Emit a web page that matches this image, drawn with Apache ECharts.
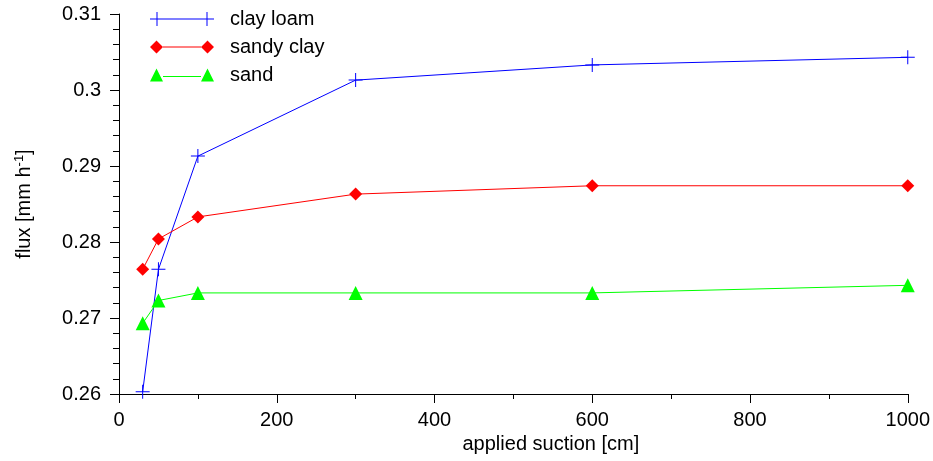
<!DOCTYPE html>
<html>
<head>
<meta charset="utf-8">
<script src="https://cdn.jsdelivr.net/npm/echarts@6/dist/echarts.min.js"></script>
<style>
html,body{margin:0;padding:0;background:#fff;overflow:hidden;}
#c{width:933px;height:461px;}
</style>
</head>
<body>
<div id="c"></div>
<script>
var suction = [30, 50, 100, 300, 600, 1000];
var clayLoam = [0.2603, 0.2764, 0.2913, 0.3013, 0.3033, 0.3043];
var sandyClay = [0.2764, 0.2804, 0.2833, 0.2863, 0.2874, 0.2874];
var sand = [0.2693, 0.2723, 0.2733, 0.2733, 0.2733, 0.2743];
var seriesNames = ['clay loam', 'sandy clay', 'sand'];

function pairs(xs, ys) { return xs.map(function (x, i) { return [x, ys[i]]; }); }

var FONT = 'Liberation Sans, Arial, sans-serif';
var plusPath = 'path://M6.5,0 L7.5,0 L7.5,6.5 L14,6.5 L14,7.5 L7.5,7.5 L7.5,14 L6.5,14 L6.5,7.5 L0,7.5 L0,6.5 L6.5,6.5 Z';

// legend icons: line with a marker at each end
var legPlus = 'path://M6.5,0 L7.5,0 L7.5,6.5 L56.5,6.5 L56.5,0 L57.5,0 L57.5,6.5 L64,6.5 L64,7.5 L57.5,7.5 L57.5,14 L56.5,14 L56.5,7.5 L7.5,7.5 L7.5,14 L6.5,14 L6.5,7.5 L0,7.5 L0,6.5 L6.5,6.5 Z';
var legDiamond = 'path://M0,7 L6.5,0.5 L13,7 L6.5,13.5 Z M13,6.5 L51,6.5 L51,7.5 L13,7.5 Z M51,7 L57.5,0.5 L64,7 L57.5,13.5 Z';
var legTri = 'path://M0,14 L6.5,1 L13,14 Z M13,8.5 L51,8.5 L51,9.5 L13,9.5 Z M51,14 L57.5,1 L64,14 Z';

var chart = echarts.init(document.getElementById('c'), null, {renderer: 'canvas'});
chart.setOption({
  animation: false,
  backgroundColor: '#fff',
  textStyle: {fontFamily: FONT},
  grid: {left: 119, right: 20, top: 14, bottom: 67, containLabel: false},
  legend: {
    left: 150, top: 9, orient: 'vertical', padding: 0,
    itemWidth: 64, itemHeight: 14, itemGap: 8,
    textStyle: {fontSize: 20, color: '#000', fontFamily: FONT, padding: [0,0,0,11]},
    data: [
      {name: seriesNames[0], icon: legPlus},
      {name: seriesNames[1], icon: legDiamond},
      {name: seriesNames[2], icon: legTri}
    ]
  },
  xAxis: {
    type: 'value', min: 0, max: 1000, interval: 200,
    name: 'applied suction [cm]', nameLocation: 'middle', nameGap: 34,
    nameTextStyle: {fontSize: 20, color: '#000', fontFamily: FONT, padding: [0,0,0,75]},
    axisLine: {show: true, lineStyle: {color: '#000', width: 1}},
    axisTick: {show: true, length: 9, lineStyle: {color: '#000'}},
    minorTick: {show: true, splitNumber: 2, length: 5, lineStyle: {color: '#000'}},
    axisLabel: {fontSize: 20, color: '#000', margin: 16, fontFamily: FONT,
      formatter: function (v) { return String(v); }},
    splitLine: {show: false}
  },
  yAxis: {
    type: 'value', min: 0.26, max: 0.31, interval: 0.01,
    name: 'flux [mm h{sup|-1}]', nameLocation: 'middle', nameGap: 84, nameRotate: 90,
    nameTextStyle: {fontSize: 20, color: '#000', fontFamily: FONT,
      rich: {sup: {fontSize: 13, color: '#000', fontFamily: FONT, padding: [0,0,9,0]}}},
    axisLine: {show: true, lineStyle: {color: '#000', width: 1}},
    axisTick: {show: true, length: 9, lineStyle: {color: '#000'}},
    minorTick: {show: true, splitNumber: 5, length: 6, lineStyle: {color: '#000'}},
    axisLabel: {fontSize: 20, color: '#000', margin: 18, fontFamily: FONT,
      formatter: function (v) { return String(parseFloat(v.toFixed(4))); }},
    splitLine: {show: false}
  },
  series: [
    {name: seriesNames[0], type: 'line', data: pairs(suction, clayLoam),
     symbol: plusPath, symbolSize: 14, color: '#0000ff',
     lineStyle: {width: 1, color: '#0000ff'}, itemStyle: {color: '#0000ff'}},
    {name: seriesNames[1], type: 'line', data: pairs(suction, sandyClay),
     symbol: 'diamond', symbolSize: 13, color: '#ff0000',
     lineStyle: {width: 1, color: '#ff0000'}, itemStyle: {color: '#ff0000'}},
    {name: seriesNames[2], type: 'line', data: pairs(suction, sand),
     symbol: 'triangle', symbolSize: 14, color: '#00ff00',
     lineStyle: {width: 1, color: '#00ff00'}, itemStyle: {color: '#00ff00'}}
  ]
});
</script>
</body>
</html>
